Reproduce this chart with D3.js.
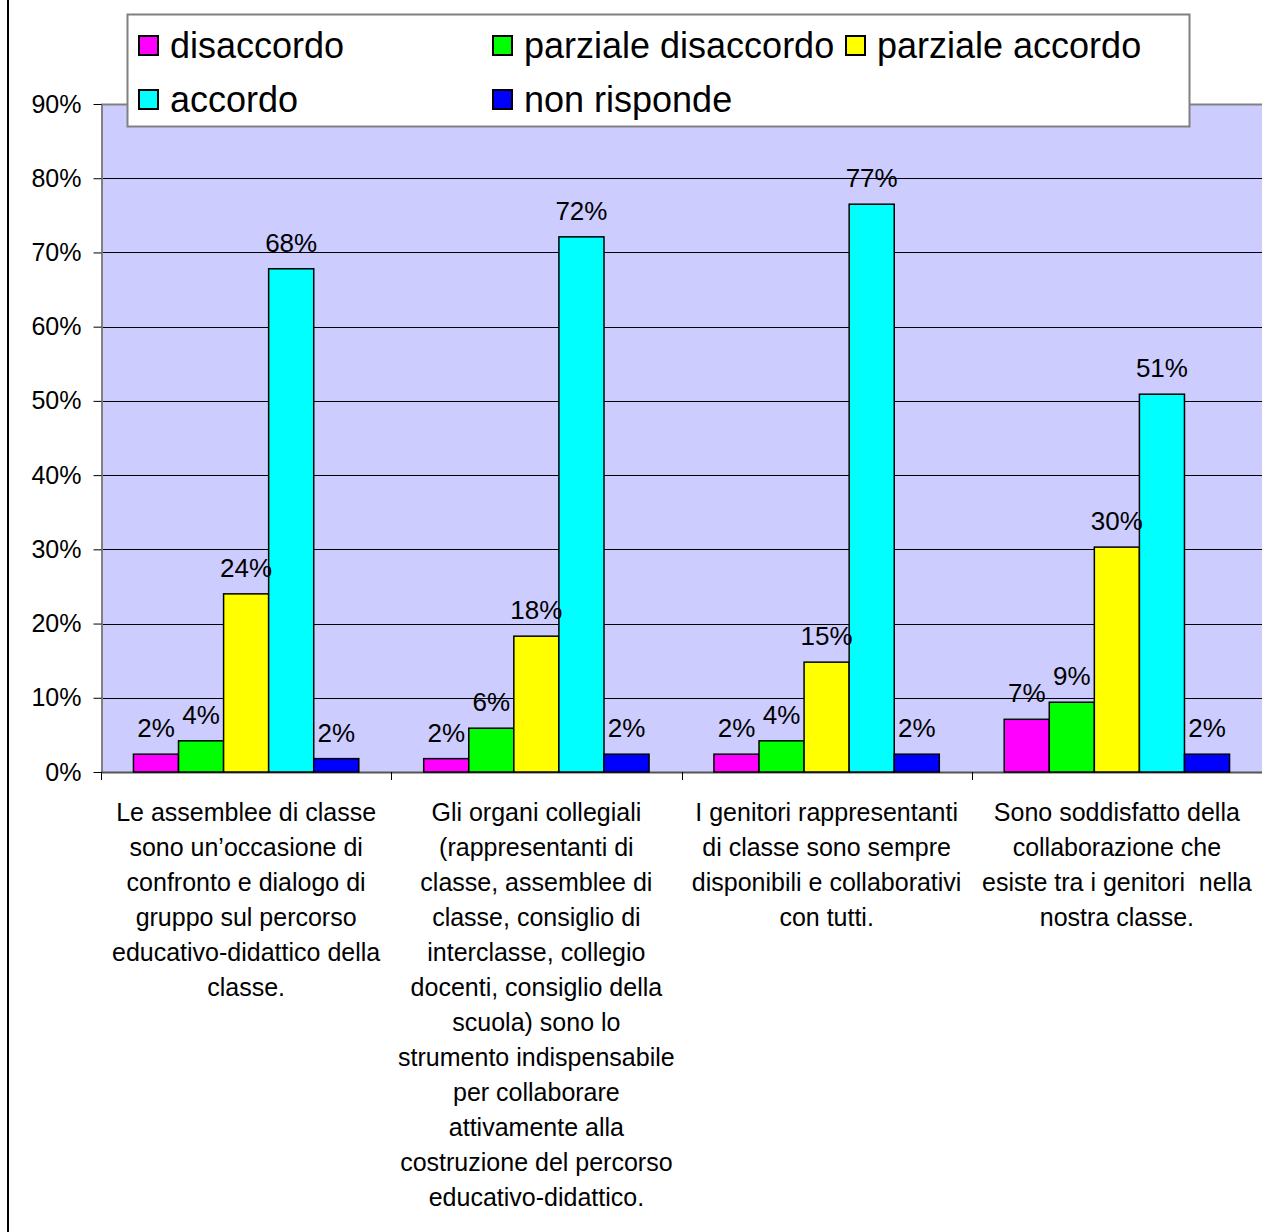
<!DOCTYPE html>
<html>
<head>
<meta charset="utf-8">
<script src="https://cdn.jsdelivr.net/npm/d3@7"></script>
<style>
  body { margin: 0; background: #fff; }
  svg { display: block; font-family: "Liberation Sans", Arial, sans-serif; }
</style>
</head>
<body>
<svg></svg>
<script>
// data
var categories = ["c1", "c2", "c3", "c4"];
var categoryLines = [
    ["Le assemblee di classe", "sono un\u2019occasione di", "confronto e dialogo di", "gruppo sul percorso", "educativo-didattico della", "classe."],
    ["Gli organi collegiali", "(rappresentanti di", "classe, assemblee di", "classe, consiglio di", "interclasse, collegio", "docenti, consiglio della", "scuola) sono lo", "strumento indispensabile", "per collaborare", "attivamente alla", "costruzione del percorso", "educativo-didattico."],
    ["I genitori rappresentanti", "di classe sono sempre", "disponibili e collaborativi", "con tutti."],
    ["Sono soddisfatto della", "collaborazione che", "esiste tra i genitori  nella", "nostra classe."]
];
var seriesNames = ["disaccordo", "parziale disaccordo", "parziale accordo", "accordo", "non risponde"];
var seriesColors = ["#FF00FF", "#00FF00", "#FFFF00", "#00FFFF", "#0000FF"];
var disaccordo         = [0.024, 0.018, 0.024, 0.071];
var parzialeDisaccordo = [0.042, 0.059, 0.042, 0.094];
var parzialeAccordo    = [0.240, 0.183, 0.148, 0.303];
var accordo            = [0.678, 0.721, 0.765, 0.509];
var nonRisponde        = [0.018, 0.024, 0.024, 0.024];
var yTicks = [0, 0.1, 0.2, 0.3, 0.4, 0.5, 0.6, 0.7, 0.8, 0.9];

var allSeries = [disaccordo, parzialeDisaccordo, parzialeAccordo, accordo, nonRisponde];

window.onload = function(){
    var svg = d3.select("svg")
        .attr("width", 1262)
        .attr("height", 1232);

    var left = 101, right = 1262, top = 104, bottom = 772;

    var x0 = d3.scaleBand()
        .domain(categories)
        .range([left, right])
        .padding(0);
    var x1 = d3.scaleBand()
        .domain(seriesNames)
        .range([0, x0.bandwidth()])
        .paddingInner(0)
        .paddingOuter(0.72);
    var y = d3.scaleLinear()
        .domain([0, 0.9])
        .range([bottom, top]);
    var pct = d3.format(".0%");

    // outer frame (left edge only visible)
    svg.append("line")
        .attr("x1", 8).attr("x2", 8)
        .attr("y1", 0).attr("y2", 1232)
        .attr("stroke", "#000")
        .attr("stroke-width", 2);

    // plot background
    svg.append("rect")
        .attr("x", left).attr("y", top)
        .attr("width", right - left).attr("height", bottom - top)
        .attr("fill", "#CCCCFF");

    // gridlines
    svg.append("g")
        .selectAll("line")
        .data(yTicks.filter(function(t){ return t > 0; }))
        .enter().append("line")
        .attr("x1", left).attr("x2", right)
        .attr("y1", function(t){ return Math.round(y(t)) + 0.5; })
        .attr("y2", function(t){ return Math.round(y(t)) + 0.5; })
        .attr("stroke", function(t){ return t >= 0.9 ? "#808080" : "#000"; })
        .attr("stroke-width", function(t){ return t >= 0.9 ? 2 : 1; });

    // y axis
    var yAxis = svg.append("g")
        .attr("transform", "translate(" + (left + 0.5) + ",0)")
        .call(d3.axisLeft(y).tickValues(yTicks).tickFormat(pct).tickSize(8).tickPadding(12).tickSizeOuter(0));
    yAxis.select(".domain").attr("stroke", "#808080").attr("stroke-width", 2);
    yAxis.selectAll(".tick line").attr("stroke", "#000");
    yAxis.selectAll(".tick text")
        .attr("font-size", 25)
        .attr("font-family", "Liberation Sans, Arial, sans-serif")
        .attr("fill", "#000");

    // x axis line + category separators
    svg.append("line")
        .attr("x1", left).attr("x2", right)
        .attr("y1", bottom + 0.5).attr("y2", bottom + 0.5)
        .attr("stroke", "#555")
        .attr("stroke-width", 2);
    var bounds = categories.map(function(c){ return x0(c); });
    svg.append("g")
        .selectAll("line")
        .data(bounds)
        .enter().append("line")
        .attr("x1", function(d){ return Math.round(d) + 0.5; })
        .attr("x2", function(d){ return Math.round(d) + 0.5; })
        .attr("y1", bottom).attr("y2", bottom + 8)
        .attr("stroke", "#000");

    // bars
    var groups = svg.append("g")
        .selectAll("g")
        .data(categories)
        .enter().append("g")
        .attr("transform", function(c){ return "translate(" + x0(c) + ",0)"; });

    groups.selectAll("rect")
        .data(function(c, i){
            return seriesNames.map(function(s, j){ return {s: s, j: j, v: allSeries[j][i]}; });
        })
        .enter().append("rect")
        .attr("x", function(d){ return x1(d.s); })
        .attr("y", function(d){ return y(d.v); })
        .attr("width", x1.bandwidth())
        .attr("height", function(d){ return bottom - y(d.v); })
        .attr("fill", function(d){ return seriesColors[d.j]; })
        .attr("stroke", "#000")
        .attr("stroke-width", 1.5);

    groups.selectAll("text")
        .data(function(c, i){
            return seriesNames.map(function(s, j){ return {s: s, j: j, v: allSeries[j][i]}; });
        })
        .enter().append("text")
        .attr("x", function(d){ return x1(d.s) + x1.bandwidth() / 2; })
        .attr("y", function(d){ return y(d.v) - 17; })
        .attr("text-anchor", "middle")
        .attr("font-size", 26)
        .text(function(d){ return pct(d.v); });

    // category labels
    var labels = svg.append("g")
        .selectAll("text")
        .data(categories)
        .enter().append("text")
        .attr("text-anchor", "middle")
        .attr("font-size", 25)
        .attr("x", function(c){ return x0(c) + x0.bandwidth() / 2; })
        .attr("y", 821);
    labels.selectAll("tspan")
        .data(function(c, i){ return categoryLines[i]; })
        .enter().append("tspan")
        .attr("x", function(){ var p = d3.select(this.parentNode); return p.attr("x"); })
        .attr("dy", function(d, i){ return i === 0 ? 0 : 35; })
        .attr("xml:space", "preserve")
        .text(function(d){ return d; });

    // legend
    var legend = svg.append("g");
    legend.append("rect")
        .attr("x", 127.5).attr("y", 14.5)
        .attr("width", 1062).attr("height", 112)
        .attr("fill", "#fff")
        .attr("stroke", "#808080")
        .attr("stroke-width", 2);
    var colX = [139, 493, 846];
    var rowY = [58, 112];
    var items = legend.selectAll("g.item")
        .data(seriesNames)
        .enter().append("g")
        .attr("class", "item")
        .attr("transform", function(d, i){
            return "translate(" + colX[i % 3] + "," + rowY[Math.floor(i / 3)] + ")";
        });
    items.append("rect")
        .attr("x", 0).attr("y", -22)
        .attr("width", 19).attr("height", 19)
        .attr("fill", function(d, i){ return seriesColors[i]; })
        .attr("stroke", "#000")
        .attr("stroke-width", 2);
    items.append("text")
        .attr("x", 31)
        .attr("y", 0)
        .attr("font-size", 36)
        .text(function(d){ return d; });
};
</script>
</body>
</html>
